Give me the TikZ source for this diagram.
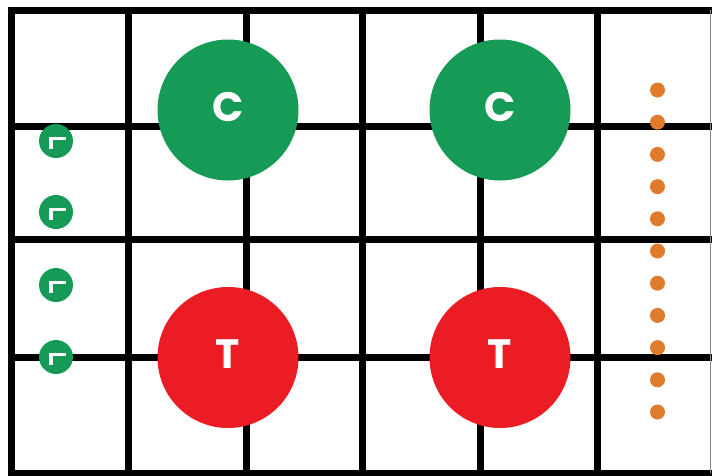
\documentclass[tikz,border=0pt]{standalone}
\usepackage{fontspec}
\usepackage{tikz}
\usetikzlibrary{positioning}
\newfontfamily\badgefont{Poppins}
\definecolor{FieldGreen}{HTML}{159B55}
\definecolor{FlagRed}{HTML}{EC1C24}
\definecolor{ConeOrange}{HTML}{DF7B2C}
\definecolor{EdgeGrey}{HTML}{8A8A8A}

\begin{document}
\begin{tikzpicture}[
    x=1pt, y=-1pt,
    gridline/.style={line width=7pt},
    bigdisc/.style={
      circle,
      minimum size=141pt,
      inner sep=0pt,
      text=white,
      text depth=6pt,
      font=\badgefont\bfseries\fontsize{41}{41}\selectfont
    },
    markdisc/.style={circle, fill=FieldGreen, minimum size=34pt, inner sep=0pt},
    cornermark/.style={draw=white, line width=3.5pt, miter limit=4},
    conedot/.style={circle, fill=ConeOrange, minimum size=15pt, inner sep=0pt}
  ]
    \useasboundingbox (0,0) rectangle (712,475);

    % pitch grid
    \foreach \gx in {11,128.5,246,362,480,597}
      \draw[gridline] (\gx,10) -- (\gx,473);
    \foreach \gy in {10,126.5,239,357,473}
      \draw[gridline] (7.5,\gy) -- (712,\gy);
    \draw[line width=1.4pt, EdgeGrey] (710.5,10) -- (710.5,473);

    % players
    \node[bigdisc, fill=FieldGreen] (cleft) at (228,110) {C};
    \node[bigdisc, fill=FieldGreen] (cright) at (500,110) {C};
    \node[bigdisc, fill=FlagRed] (tleft) at (228,357.5) {T};
    \node[bigdisc, fill=FlagRed] (tright) at (500,357.5) {T};

    % markers on the left
    \foreach \my [count=\mi] in {141,212,285,357} {
      \node[markdisc] (mark\mi) at (56,\my) {};
      \draw[cornermark] (50.75,{\my+8}) -- (50.75,{\my-2.75}) -- (66,{\my-2.75});
    }

    % cones on the right
    \foreach \dy [count=\di] in {0,...,10}
      \node[conedot] (cone\di) at (657.5,{90+32.2*\dy}) {};
  \end{tikzpicture}
\end{document}
